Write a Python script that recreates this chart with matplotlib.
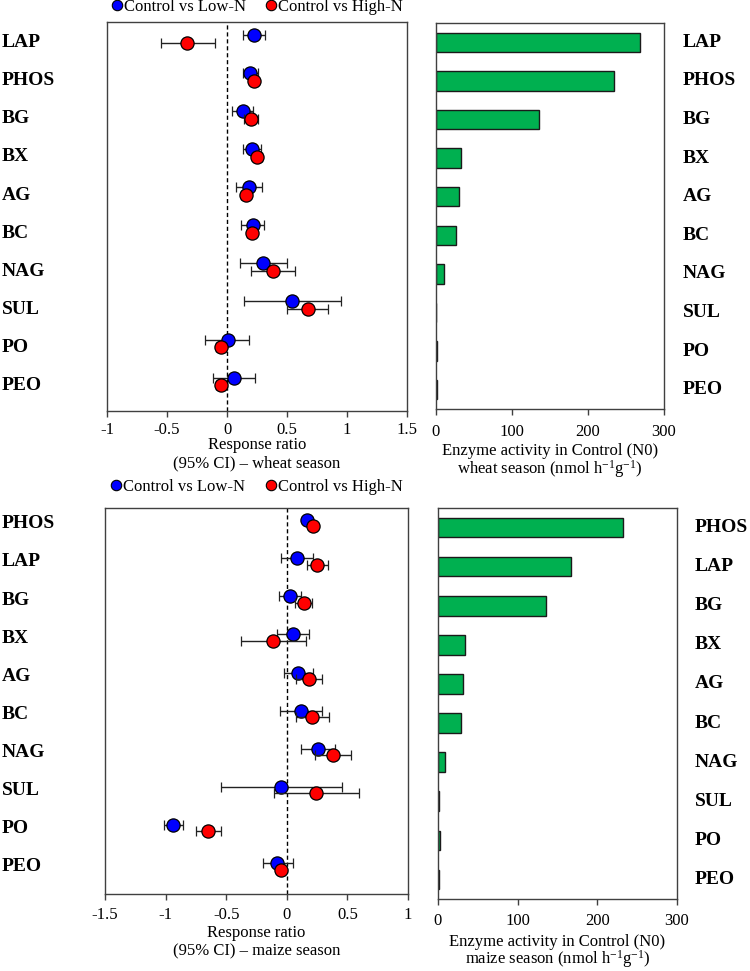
import matplotlib
matplotlib.use("Agg")
import matplotlib.pyplot as plt
import matplotlib.transforms as mtransforms
from matplotlib.lines import Line2D
import numpy as np

plt.rcParams['font.family'] = ['Liberation Serif', 'DejaVu Serif']
plt.rcParams['mathtext.fontset'] = 'custom'
plt.rcParams['mathtext.rm'] = 'Liberation Serif'
plt.rcParams['mathtext.it'] = 'Liberation Serif:italic'

# ---------------- data ----------------
series_names = ['Control vs Low-N', 'Control vs High-N']

# wheat season
cats_w = ['LAP', 'PHOS', 'BG', 'BX', 'AG', 'BC', 'NAG', 'SUL', 'PO', 'PEO']
low_w = [0.228, 0.19, 0.136, 0.205, 0.183, 0.22, 0.303, 0.544, 0.006, 0.061]
low_w_lo = [0.13, 0.13, 0.04, 0.136, 0.075, 0.12, 0.108, 0.144, -0.183, -0.12]
low_w_hi = [0.32, 0.26, 0.22, 0.28, 0.29, 0.31, 0.497, 0.947, 0.186, 0.236]
high_w = [-0.33, 0.225, 0.2, 0.253, 0.156, 0.205, 0.38, 0.672, -0.05, -0.053]
high_w_lo = [-0.55, 0.19, 0.14, 0.22, 0.12, 0.17, 0.20, 0.503, -0.09, -0.09]
high_w_hi = [-0.10, 0.26, 0.26, 0.29, 0.19, 0.24, 0.567, 0.839, -0.01, -0.01]
bars_w = [268.5, 234, 135, 33, 30, 26, 11, 0.5, 1.5, 1.0]

# maize season
cats_m = ['PHOS', 'LAP', 'BG', 'BX', 'AG', 'BC', 'NAG', 'SUL', 'PO', 'PEO']
low_m = [0.165, 0.088, 0.025, 0.052, 0.096, 0.118, 0.258, -0.044, -0.942, -0.077]
low_m_lo = [0.14, -0.044, -0.066, -0.077, -0.027, -0.058, 0.121, -0.547, -1.011, -0.2]
low_m_hi = [0.19, 0.217, 0.115, 0.184, 0.217, 0.288, 0.396, 0.459, -0.86, 0.052]
high_m = [0.22, 0.253, 0.14, -0.113, 0.187, 0.21, 0.382, 0.245, -0.648, -0.049]
high_m_lo = [0.19, 0.17, 0.07, -0.374, 0.08, 0.08, 0.231, -0.104, -0.75, -0.08]
high_m_hi = [0.25, 0.34, 0.21, 0.157, 0.29, 0.35, 0.527, 0.593, -0.547, -0.02]
bars_m = [232, 167, 135, 33.5, 32, 28.5, 9, 0.8, 2.0, 0.8]

xticks_w = [-1, -0.5, 0, 0.5, 1, 1.5]
xticklabels_w = ['-1', '-0.5', '0', '0.5', '1', '1.5']
xticks_m = [-1.5, -1, -0.5, 0, 0.5, 1]
xticklabels_m = ['-1.5', '-1', '-0.5', '0', '0.5', '1']
bar_ticks = [0, 100, 200, 300]

xlabel_forest_w = ['Response ratio', '(95% CI) \u2013 wheat season']
xlabel_forest_m = ['Response ratio', '(95% CI) \u2013 maize season']
xlabel_bar_w = ['Enzyme activity in Control (N0)',
                'wheat season (nmol h$^{-1}$g$^{-1}$)']
xlabel_bar_m = ['Enzyme activity in Control (N0)',
                'maize season (nmol h$^{-1}$g$^{-1}$)']

# ---------------- style ----------------
BLUE = '#0000FF'
RED = '#FF0000'
GREEN = '#00B050'
SPINE = '#404040'
TXT = 12
LBL = 14

fig = plt.figure(figsize=(7.5, 9.71), dpi=100)
W, H = 750.0, 971.0


def px_axes(x0, y0, x1, y1):
    return fig.add_axes([x0 / W, 1 - y1 / H, (x1 - x0) / W, (y1 - y0) / H])


def style_axes(ax, pad):
    for s in ax.spines.values():
        s.set_color(SPINE)
        s.set_linewidth(1.0)
    ax.tick_params(axis='x', direction='out', length=4, width=1.0, color=SPINE,
                   labelsize=TXT, pad=pad)
    ax.tick_params(axis='y', left=False, labelleft=False)


def two_line_label(ax, lines, dys):
    for txt, dy in zip(lines, dys):
        tr = mtransforms.offset_copy(ax.transAxes, fig=fig, x=0, y=-dy,
                                     units='dots')
        ax.text(0.5, 0, txt, transform=tr, ha='center', va='center',
                fontsize=TXT)


def forest(ax, cats, low, lo1, hi1, high, lo2, hi2, xlim, xt, xtl, xlabel,
           ytop, ybot, red_off, lab_off, lab_x_px, leg_y, pad, dys):
    n = len(cats)
    y = np.arange(n)
    low = np.array(low); high = np.array(high)
    e1 = [low - np.array(lo1), np.array(hi1) - low]
    e2 = [high - np.array(lo2), np.array(hi2) - high]
    ax.axvline(0, color='black', lw=1.0, ls=(0, (3, 2)), zorder=1)
    ax.errorbar(low, y, xerr=e1, fmt='o', ms=9.5, mfc=BLUE, mec='black', mew=0.9,
                ecolor='#222222', elinewidth=1.0, capsize=3.5, capthick=1.0,
                zorder=3)
    ax.errorbar(high, y + red_off, xerr=e2, fmt='o', ms=9.5, mfc=RED, mec='black',
                mew=0.9, ecolor='#222222', elinewidth=1.0, capsize=3.5,
                capthick=1.0, zorder=4)
    ax.set_xlim(*xlim)
    ax.set_ylim(ybot, ytop)
    ax.set_xticks(xt)
    ax.set_xticklabels(xtl)
    style_axes(ax, pad)
    two_line_label(ax, xlabel, dys)
    tr = mtransforms.blended_transform_factory(fig.transFigure, ax.transData)
    for i, c in enumerate(cats):
        ax.text(lab_x_px / W, i + lab_off, c, transform=tr, ha='left',
                va='center', fontsize=LBL, fontweight='bold')
    handles = [Line2D([], [], ls='none', marker='o', ms=7.5, mfc=col, mec='black',
                      mew=0.8) for col in (BLUE, RED)]
    ax.legend(handles, series_names, loc='center', bbox_to_anchor=(0.5, leg_y),
              ncol=2, frameon=False, fontsize=TXT, handletextpad=0.05,
              columnspacing=1.2, handlelength=0.7, borderaxespad=0.0,
              borderpad=0.0)
    return ax


def barplot(ax, cats, vals, xlabel, lab_x_px, pad, dys):
    n = len(cats)
    y = np.arange(n)
    ax.barh(y, vals, height=0.5, color=GREEN, edgecolor='#1a1a1a', linewidth=1.0,
            zorder=2)
    ax.set_xlim(0, 300)
    ax.set_ylim(n - 0.5, -0.5)
    ax.set_xticks(bar_ticks)
    ax.set_xticklabels([str(t) for t in bar_ticks])
    style_axes(ax, pad)
    two_line_label(ax, xlabel, dys)
    tr = mtransforms.blended_transform_factory(fig.transFigure, ax.transData)
    for i, c in enumerate(cats):
        ax.text(lab_x_px / W, i, c, transform=tr, ha='left', va='center',
                fontsize=LBL, fontweight='bold')


# top row (wheat)
ax1 = px_axes(107, 22, 407, 411)
forest(ax1, cats_w, low_w, low_w_lo, low_w_hi, high_w, high_w_lo, high_w_hi,
       (-1, 1.5), xticks_w, xticklabels_w, xlabel_forest_w,
       ytop=-0.35, ybot=9.88, red_off=0.19, lab_off=0.2, lab_x_px=2,
       leg_y=1 + 15 / 389, pad=4.0, dys=(34, 52))

ax2 = px_axes(436, 23, 664, 409)
barplot(ax2, cats_w, bars_w, xlabel_bar_w, lab_x_px=683, pad=7.0, dys=(42, 60))

# bottom row (maize)
ax3 = px_axes(105, 508, 408, 894)
forest(ax3, cats_m, low_m, low_m_lo, low_m_hi, high_m, high_m_lo, high_m_hi,
       (-1.5, 1), xticks_m, xticklabels_m, xlabel_forest_m,
       ytop=-0.315, ybot=9.81, red_off=0.17, lab_off=0.1, lab_x_px=2,
       leg_y=1 + 21 / 386, pad=5.5, dys=(38.5, 57))

ax4 = px_axes(438, 508, 677, 899)
barplot(ax4, cats_m, bars_m, xlabel_bar_m, lab_x_px=695, pad=6.0, dys=(43, 60))

fig.savefig('out.png', dpi=100, facecolor='white')
